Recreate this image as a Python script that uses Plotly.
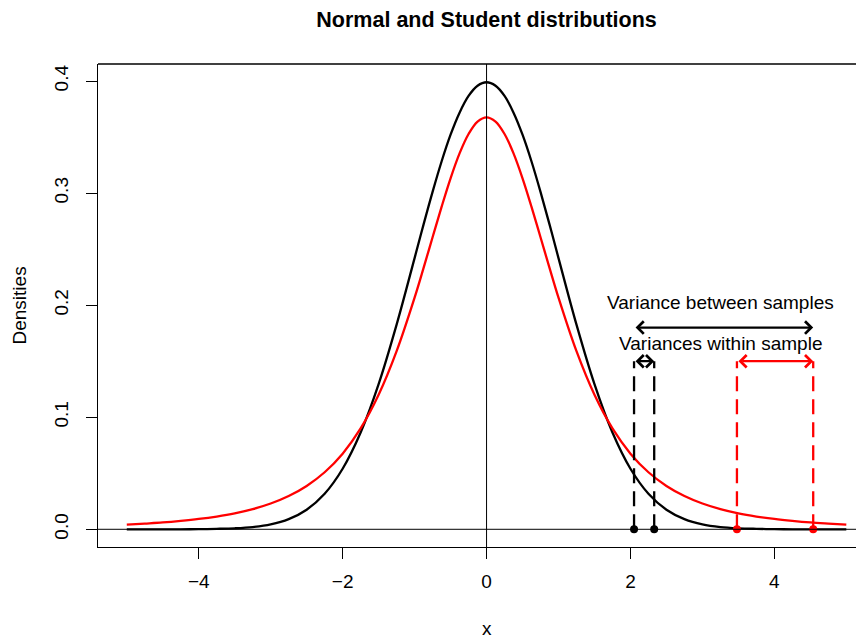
import plotly.graph_objects as go

# densities (right half, the curves are symmetric)
x_half = [0.0, 0.125, 0.25, 0.375, 0.5, 0.625, 0.75, 0.875, 1.0, 1.25, 1.5,
          1.75, 2.0, 2.25, 2.5, 2.75, 3.0, 3.25, 3.5, 3.75, 4.0, 4.25, 4.5,
          4.75, 5.0]
normal_half = [0.3989, 0.3958, 0.3867, 0.3718, 0.3521, 0.3282, 0.3011, 0.2721,
               0.2420, 0.1826, 0.1295, 0.0863, 0.0540, 0.0317, 0.0175, 0.0091,
               0.0044, 0.0020, 0.0009, 0.0004, 0.0001, 0.0000, 0.0000, 0.0000,
               0.0000]
student_half = [0.3676, 0.3638, 0.3527, 0.3354, 0.3132, 0.2877, 0.2606, 0.2333,
                0.2067, 0.1589, 0.1200, 0.0900, 0.0675, 0.0509, 0.0387, 0.0297,
                0.0230, 0.0180, 0.0142, 0.0114, 0.0092, 0.0075, 0.0061, 0.0051,
                0.0042]
x_vals = [-v for v in x_half[::-1]] + x_half[1:]
normal_dens = normal_half[::-1] + normal_half[1:]
student_dens = student_half[::-1] + student_half[1:]

# samples and arrow levels
black_samples = [2.05, 2.33]
red_samples = [3.48, 4.54]
within_level = 0.15
between_level = 0.18
label_between = "Variance between samples"
label_within = "Variances within sample"
label_x = 3.25
label_between_y = 0.202
label_within_y = 0.166

x_ticks = [-4, -2, 0, 2, 4]
y_ticks = [0.0, 0.1, 0.2, 0.3, 0.4]

FONT = "Liberation Sans, Arial, sans-serif"
DASH = "15px,8px"

fig = go.Figure()

fig.add_trace(go.Scatter(x=x_vals, y=normal_dens, mode="lines",
                         line=dict(color="black", width=2.3, shape="spline"),
                         showlegend=False))
fig.add_trace(go.Scatter(x=x_vals, y=student_dens, mode="lines",
                         line=dict(color="red", width=2.3, shape="spline"),
                         showlegend=False))


def dashed(samples, color):
    xs, ys = [], []
    for s in samples:
        xs += [s, s, None]
        ys += [0, within_level, None]
    fig.add_trace(go.Scatter(x=xs, y=ys, mode="lines",
                             line=dict(color=color, width=2.3, dash=DASH),
                             showlegend=False))
    fig.add_trace(go.Scatter(x=samples, y=[0] * len(samples), mode="markers",
                             marker=dict(color=color, size=8),
                             showlegend=False))


dashed(black_samples, "black")
dashed(red_samples, "red")


def double_arrow(x0, x1, y, color):
    fig.add_annotation(x=x1, y=y, ax=x0, ay=y, xref="x", yref="y",
                       axref="x", ayref="y", text="", showarrow=True,
                       arrowhead=4, startarrowhead=4, arrowside="end+start",
                       arrowsize=1.1, startarrowsize=1.1,
                       arrowwidth=2.2, arrowcolor=color,
                       standoff=0, startstandoff=0)


double_arrow(black_samples[0], black_samples[1], within_level, "black")
double_arrow(red_samples[0], red_samples[1], within_level, "red")
double_arrow(black_samples[0], red_samples[1], between_level, "black")

fig.add_annotation(x=label_x, y=label_between_y, text=label_between,
                   showarrow=False, font=dict(size=19, color="black"))
fig.add_annotation(x=label_x, y=label_within_y, text=label_within,
                   showarrow=False, font=dict(size=19, color="black"))

# axis titles placed like R does
fig.add_annotation(x=0, y=0, yref="paper", yshift=-81, text="x", showarrow=False,
                   font=dict(size=19, color="black"), yanchor="middle")
fig.add_annotation(x=0, xref="paper", xshift=-79, y=0.5, yref="paper",
                   text="Densities", textangle=-90, showarrow=False,
                   font=dict(size=19, color="black"), xanchor="center")

# abline(h = 0), abline(v = 0) and the top of the box
fig.add_shape(type="line", xref="paper", yref="y", x0=0, x1=1, y0=0, y1=0,
              line=dict(color="black", width=1), layer="above")
fig.add_shape(type="line", xref="x", yref="paper", x0=0, x1=0, y0=0, y1=1,
              line=dict(color="black", width=1), layer="above")
fig.add_shape(type="line", xref="paper", yref="paper", x0=0, x1=1, y0=1, y1=1,
              line=dict(color="black", width=1.3))

# the page puts the figure 8px in from the top-left, margins allow for it
fig.update_layout(
    width=864, height=639,
    margin=dict(l=90, r=0, t=56, b=100),
    paper_bgcolor="white", plot_bgcolor="white",
    font=dict(family=FONT, size=19, color="black"),
    title=dict(text="<b>Normal and Student distributions</b>",
               x=0.502, xref="paper", xanchor="center",
               y=1 - 11 / 639, yref="container", yanchor="middle",
               font=dict(size=21.5, family=FONT, color="black")),
    xaxis=dict(range=[-5.40, 5.357], tickvals=x_ticks,
               ticktext=["\u22124", "\u22122", "0", "2", "4"],
               showgrid=False, zeroline=False, showline=True,
               linecolor="black", linewidth=1.3,
               ticks="outside", ticklen=11, tickcolor="black", tickwidth=1.2,
               ticklabelstandoff=6),
    yaxis=dict(range=[-0.0158, 0.4152], tickvals=y_ticks,
               ticktext=["0.0", "0.1", "0.2", "0.3", "0.4"],
               tickangle=-90, showgrid=False, zeroline=False, showline=True,
               linecolor="black", linewidth=1.3,
               ticks="outside", ticklen=11, tickcolor="black", tickwidth=1.2,
               ticklabelstandoff=10),
)

fig.write_html("out.html")
